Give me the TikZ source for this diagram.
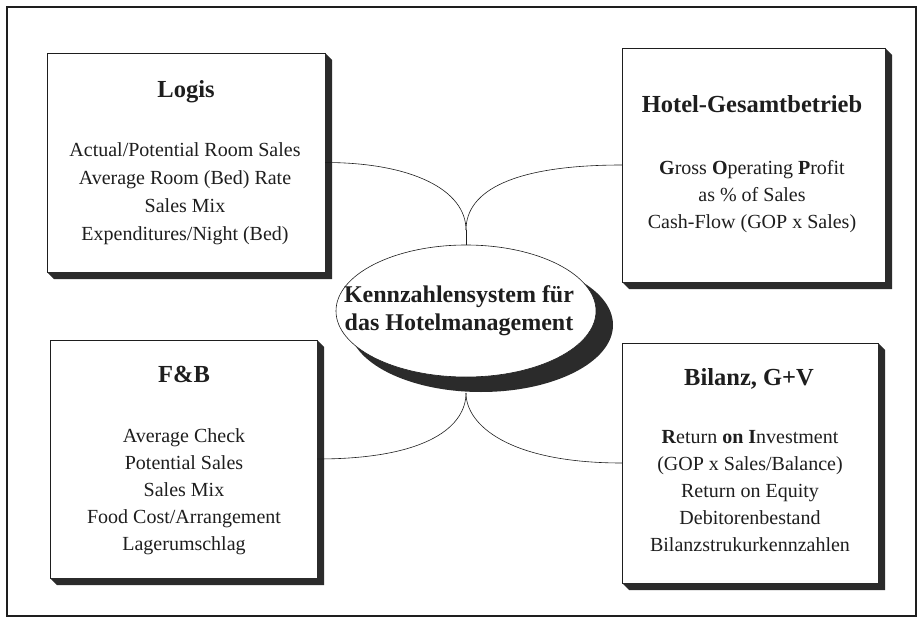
\documentclass[tikz,border=0pt]{standalone}
\usepackage{fontspec}
\setmainfont{Liberation Serif}
\usetikzlibrary{shapes.geometric,calc}
\definecolor{shadowgray}{HTML}{2B2B2B}
\definecolor{ink}{HTML}{1E1E1E}
\newcommand\boxshadow[1]{%
  \fill[shadowgray] (#1.north east) -- ++(7,7) -- ($(#1.south east)+(7,7)$)
    -- ($(#1.south west)+(7,7)$) -- (#1.south west) -- (#1.south east) -- cycle;}
\begin{document}
\begin{tikzpicture}[x=1pt,y=-1pt,
  card/.style={draw=ink,line width=0.7pt,fill=white,inner sep=0pt,outer sep=0pt},
  title/.style={font=\bfseries\fontsize{24.5}{28}\selectfont,anchor=base,inner sep=0pt,text=ink},
  item/.style={font=\fontsize{20}{24}\selectfont,anchor=base,inner sep=0pt,text=ink},
  coretext/.style={font=\bfseries\fontsize{24}{28}\selectfont,anchor=base,inner sep=0pt,text=ink},
  link/.style={draw=ink,line width=0.6pt}]
\useasboundingbox (0,0) rectangle (919,618);
\draw[ink,line width=1.2pt] (7,7) rectangle (916,616);

% boxes
\node[card,minimum width=278pt,minimum height=219pt] (logis) at (186,162.5) {};
\node[card,minimum width=263pt,minimum height=234pt] (hotel) at (753.5,165) {};
\node[card,minimum width=267pt,minimum height=238pt] (fb) at (183.5,459) {};
\node[card,minimum width=256pt,minimum height=240pt] (bil) at (750,463) {};
\boxshadow{logis}
\boxshadow{hotel}
\boxshadow{fb}
\boxshadow{bil}

% connectors
\coordinate (tcusp) at (466,230);
\coordinate (bcusp) at (466,393);
\draw[link] (logis.east) .. controls +(87,0) and +(0,-40) .. (tcusp);
\draw[link] (hotel.west) .. controls +(-107,0) and +(0,-40) .. (tcusp);
\draw[link] (bcusp) .. controls +(0,32) and +(113,0) .. (fb.east);
\draw[link] (bcusp) .. controls +(0,32) and +(-113,0) .. (bil.west);

% central ellipse
\coordinate (cc) at (466,311);
\fill[shadowgray] ($(cc)+(15,14)$) ellipse [x radius=132pt, y radius=67pt];
\node[ellipse,draw=ink,line width=0.6pt,fill=white,minimum width=260pt,minimum height=132pt,inner sep=0pt] (core) at (cc) {};
\draw[link] (tcusp) -- (core.north);
\node[coretext] (core1) at (459,302) {Kennzahlensystem für};
\node[coretext] (core2) at (459,330) {das Hotelmanagement};

% texts
\node[title] (logisT) at (186,97) {Logis};
\foreach \t [count=\i] in {Actual/Potential Room Sales, Average Room (Bed) Rate, Sales Mix, Expenditures/Night (Bed)}
  \node[item] (logis\i) at (185,157+27.7*\i-27.7) {\t};

\node[title] (hotelT) at (752,113) {Hotel-Gesamtbetrieb};
\foreach \t [count=\i] in {\textbf{G}ross \textbf{O}perating \textbf{P}rofit, as \% of Sales, Cash-Flow (GOP x Sales)}
  \node[item] (hotel\i) at (752,174+27*\i-27) {\t};

\node[title] (fbT) at (184,382) {F\&B};
\foreach \t [count=\i] in {Average Check, Potential Sales, Sales Mix, Food Cost/Arrangement, Lagerumschlag}
  \node[item] (fb\i) at (184,442+27.2*\i-27.2) {\t};

\node[title] (bilT) at (749,385) {Bilanz, G+V};
\foreach \t [count=\i] in {\textbf{R}eturn \textbf{on} \textbf{I}nvestment, (GOP x Sales/Balance), Return on Equity, Debitorenbestand, Bilanzstrukurkennzahlen}
  \node[item] (bil\i) at (750,443+27.2*\i-27.2) {\t};
\end{tikzpicture}
\end{document}
